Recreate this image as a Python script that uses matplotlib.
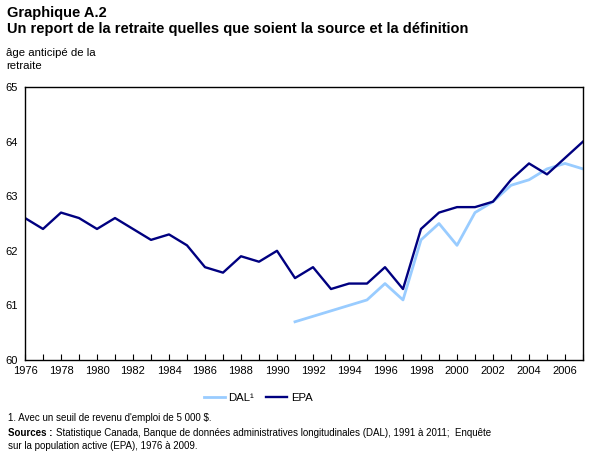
import matplotlib
matplotlib.use("Agg")
import matplotlib.pyplot as plt
from matplotlib.ticker import MultipleLocator

plt.rcParams['font.family'] = ['Liberation Sans', 'DejaVu Sans']

years_epa = list(range(1976, 2008))
epa = [62.6, 62.4, 62.7, 62.6, 62.4, 62.6, 62.4, 62.2, 62.3, 62.1,
       61.7, 61.6, 61.9, 61.8, 62.0, 61.5, 61.7, 61.3, 61.4, 61.4,
       61.7, 61.3, 62.4, 62.7, 62.8, 62.8, 62.9, 63.3, 63.6, 63.4,
       63.7, 64.0]
years_dal = list(range(1991, 2008))
dal = [60.7, 60.8, 60.9, 61.0, 61.1, 61.4, 61.1, 62.2, 62.5, 62.1,
       62.7, 62.9, 63.2, 63.3, 63.5, 63.6, 63.5]
xtick_labels = [str(y) for y in range(1976, 2007, 2)]

fig = plt.figure(figsize=(6.07, 4.55), dpi=100)
ax = fig.add_axes([25/607, 1-360/455, (583-25)/607, (360-87)/455])

ax.plot(years_dal, dal, color='#99CCFF', lw=2, label='DAL¹')
ax.plot(years_epa, epa, color='#000080', lw=1.7, label='EPA')

ax.set_xlim(1976, 2007)
ax.set_ylim(60, 65)
ax.set_xticks(range(1976, 2007, 2))
ax.set_xticklabels(xtick_labels, fontsize=8)
ax.xaxis.set_minor_locator(MultipleLocator(1))
ax.set_yticks([60, 61, 62, 63, 64, 65])
ax.tick_params(axis='x', which='both', direction='in', length=4, width=0.8, pad=4)
ax.tick_params(axis='y', length=0, labelsize=8, pad=5)
for s in ax.spines.values():
    s.set_linewidth(1.0)

fig.text(7/607, 1-13/455, 'Graphique A.2', fontsize=10.5, fontweight='bold', va='center')
fig.text(7/607, 1-29/455, 'Un report de la retraite quelles que soient la source et la définition',
         fontsize=10.5, fontweight='bold', va='center')
fig.text(6/607, 1-53/455, 'âge anticipé de la', fontsize=8.2, va='center')
fig.text(6/607, 1-66/455, 'retraite', fontsize=8.2, va='center')

leg = fig.legend(loc='center', bbox_to_anchor=(258/607, 1-398/455), ncol=2, frameon=False,
                 fontsize=8.2, handlelength=1.9, columnspacing=1.0, handletextpad=0.3)

fs = 7.0
fig.text(8/607, 1-418/455, "1. Avec un seuil de revenu d'emploi de 5 000 $.", fontsize=fs, va='center')
fig.text(8/607, 1-433/455, "Sources :", fontsize=fs, va='center', fontweight='bold')
fig.text(56/607, 1-433/455,
         "Statistique Canada, Banque de données administratives longitudinales (DAL), 1991 à 2011;  Enquête",
         fontsize=fs, va='center')
fig.text(8/607, 1-446/455, "sur la population active (EPA), 1976 à 2009.", fontsize=fs, va='center')

fig.savefig('out.png', dpi=100)
